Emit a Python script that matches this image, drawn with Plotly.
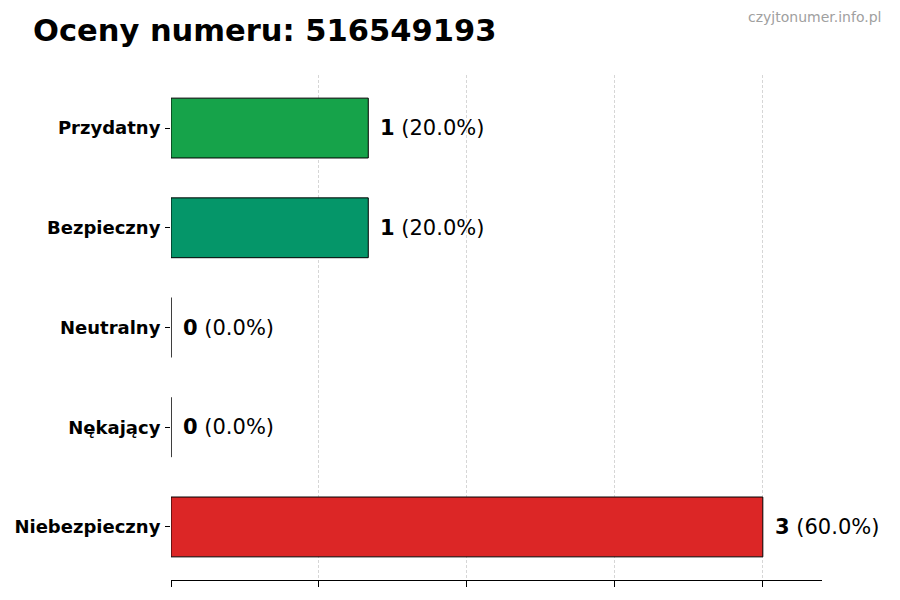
import plotly.graph_objects as go

# ratings, top to bottom as drawn
categories = ['Przydatny', 'Bezpieczny', 'Neutralny', 'Nękający', 'Niebezpieczny']
counts = [1, 1, 0, 0, 3]
colors = ['#16a34a', '#059669', '#6b7280', '#f97316', '#dc2626']
phone = '516549193'

total = sum(counts)
xmax = max(counts) * 1.1

# page body has an 8px margin, so the figure is shifted a bit
L, T, PW = 163, 67, 651

fig = go.Figure()
fig.add_trace(go.Bar(
    x=counts, y=categories, orientation='h', width=0.6,
    marker=dict(color=colors, line=dict(color='black', width=1)),
    hoverinfo='skip',
))

for cat, n in zip(categories, counts):
    pct = 100.0 * n / total if total else 0
    fig.add_annotation(
        x=n, y=cat, xref='x', yref='y',
        text=f'<b>{n}</b> ({pct:.1f}%)',
        showarrow=False, xanchor='left', yanchor='middle', xshift=10,
        font=dict(family='DejaVu Sans', size=21, color='black'),
    )

fig.add_annotation(
    text=f'<b>Oceny numeru: {phone}</b>', xref='paper', yref='paper',
    x=(23 - L) / PW, y=1, yshift=45, xanchor='left', yanchor='middle',
    showarrow=False, font=dict(family='DejaVu Sans', size=30.5, color='black'),
)
fig.add_annotation(
    text='czyjtonumer.info.pl', xref='paper', yref='paper',
    x=(875 - L) / PW, y=1, yshift=58, xanchor='right', yanchor='middle',
    showarrow=False, font=dict(family='DejaVu Sans', size=14, color='#a0a0a0'),
)

fig.update_layout(
    width=900, height=600,
    margin=dict(l=L, r=900 - L - PW, t=T, b=28),
    plot_bgcolor='white', paper_bgcolor='white',
    showlegend=False,
    xaxis=dict(
        range=[0, xmax], tick0=0, dtick=0.75, automargin=False,
        showticklabels=False, ticks='outside', ticklen=6, tickcolor='black',
        showgrid=True, gridcolor='#d6d6d6', griddash='3px,2px', gridwidth=1,
        showline=True, linecolor='black', linewidth=1,
        zeroline=False,
    ),
    yaxis=dict(
        categoryorder='array', categoryarray=categories[::-1],
        range=[-0.532, len(categories) - 1 + 0.532], automargin=False,
        ticks='outside', ticklen=5, tickcolor='black', ticklabelstandoff=1,
        tickfont=dict(family='DejaVu Sans', size=18, color='black', weight='bold'),
        showgrid=False, showline=False, zeroline=False,
    ),
)

fig.write_html('out.html')
